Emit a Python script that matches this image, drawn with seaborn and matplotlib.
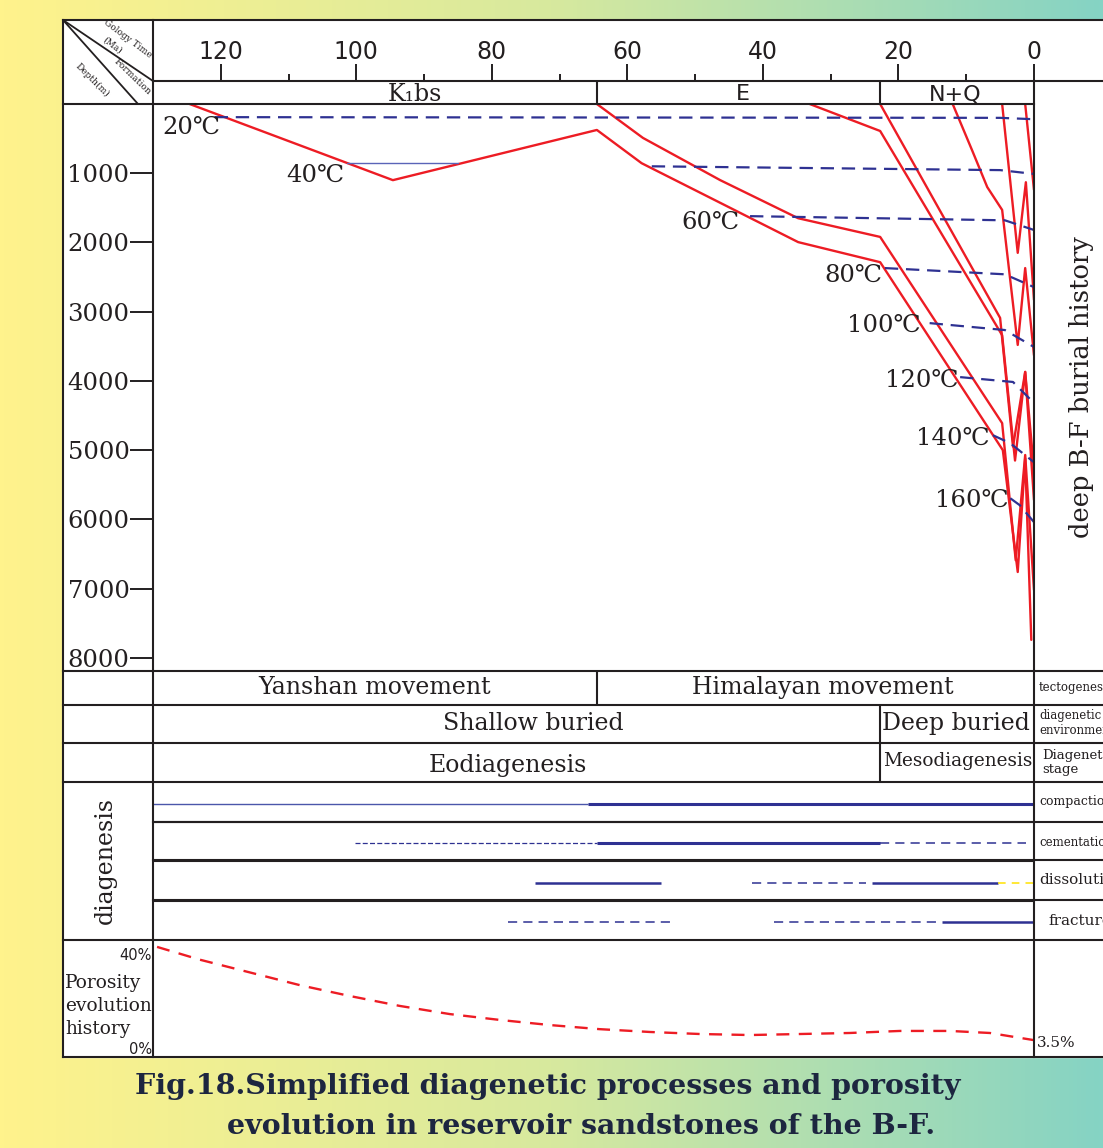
import numpy as np
import pandas as pd
import matplotlib
matplotlib.use("Agg")
import matplotlib.pyplot as plt
import seaborn as sns
from matplotlib.colors import LinearSegmentedColormap
from matplotlib.patches import Rectangle

sns.set_theme(style="white")
plt.rcParams['font.family'] = ['DejaVu Serif', 'DejaVu Sans']

W, H = 1103, 1148
RED = '#ED1C24'
BLUE = '#2E3192'
INK = '#231F20'
SERIF = ['DejaVu Serif', 'DejaVu Sans']
SANS = ['DejaVu Sans']

# -----------------------------
# 1. Values
# -----------------------------
time_major = [120, 100, 80, 60, 40, 20, 0]
time_minor = [110, 90, 70, 50, 30, 10]
depth_ticks = [1000, 2000, 3000, 4000, 5000, 6000, 7000, 8000]

formation_names = ['K₁bs', 'E', 'N+Q']
formation_mid = [91.4, 43.0, 11.7]
formation_bounds = [64.5, 22.7]

# burial curves: age (Ma) / depth (m)
k1bs_ma = [124.6, 94.6, 64.5, 57.9, 34.8, 22.7, 4.6, 2.4, 1.3, 0.4]
k1bs_depth = [0, 1100, 375, 855, 1995, 2285, 5000, 6760, 5120, 7740]
e_base_ma = [64.5, 57.7, 46.3, 34.8, 22.7, 4.7, 2.7, 1.3, 0]
e_base_depth = [0, 490, 1100, 1650, 1920, 4610, 6590, 5070, 7020]
e_mid_ma = [33.1, 22.7, 4.7, 2.8, 1.3, 0]
e_mid_depth = [0, 390, 3340, 5150, 3870, 5720]
nq_base_ma = [22.7, 5.0, 3.1, 1.3, 0]
nq_base_depth = [0, 3090, 4950, 3870, 5290]
n_mid_ma = [12.0, 9.15, 6.9, 4.7, 2.4, 1.3, 0]
n_mid_depth = [0, 665, 1200, 1530, 3480, 2370, 3630]
q_base_ma = [4.7, 2.4, 1.2, 0]
q_base_depth = [0, 2150, 1130, 2830]
q_top_ma = [1.3, 0]
q_top_depth = [0, 1240]

# isotherms
iso20_ma, iso20_depth = [120.9, 5.0, 0], [190, 200, 220]
iso40k_ma, iso40k_depth = [101.3, 85.0], [855, 855]
iso40_ma, iso40_depth = [56.4, 5.0, 0], [900, 955, 1010]
iso60_ma, iso60_depth = [41.9, 4.3, 0], [1620, 1680, 1820]
iso80_ma, iso80_depth = [22.0, 4.3, 0], [2370, 2460, 2645]
iso100_ma, iso100_depth = [15.4, 4.3, 0], [3165, 3265, 3510]
iso120_ma, iso120_depth = [10.9, 3.1, 0], [3945, 4015, 4320]
iso140_ma, iso140_depth = [6.05, 3.5, 0], [4785, 4900, 5175]
iso160_ma, iso160_depth = [3.5, 2.1, 0], [5695, 5795, 6040]

iso_labels = ['20℃', '40℃', '60℃', '80℃', '100℃', '120℃', '140℃', '160℃']
iso_label_ma = [120.1, 101.7, 43.4, 22.3, 16.8, 11.2, 6.5, 3.8]
iso_label_depth = [332, 1026, 1705, 2471, 3193, 3988, 4826, 5722]

# tectonics / environment / stage rows
tect_names = ['Yanshan movement', 'Himalayan movement']
tect_mid = [97.3, 31.1]
tect_bound = [64.5]
env_names = ['Shallow buried', 'Deep buried']
env_mid = [73.9, 11.5]
stage_names = ['Eodiagenesis', 'Mesodiagenesis']
stage_mid = [77.6, 11.2]
stage_size = [17, 13.3]
burial_bound = [22.7]

# diagenesis processes
proc_names = ['compaction', 'cementation', 'dissolution', 'fracture']
seg_row = [0, 0, 1, 1, 1, 2, 2, 2, 2, 3, 3, 3]
seg_start = [130, 65.8, 100.2, 64.5, 22.7, 73.7, 41.6, 23.9, 5.3, 77.6, 38.4, 13.6]
seg_end = [65.8, 0, 64.5, 22.7, 1.2, 55.1, 24.8, 5.3, 0, 52.8, 13.6, 0]
seg_style = ['thin', 'thick', 'fine', 'thick', 'dash', 'solid', 'dash', 'solid',
             'yellow', 'dash', 'dash', 'solid']

# porosity evolution (%)
por_ma = [129.4, 123.1, 115.7, 108.3, 101.0, 93.6, 86.2, 78.8, 71.4, 64.1,
          56.7, 49.3, 41.9, 34.5, 27.2, 19.8, 12.4, 6.5, 0]
por_val = [40, 35, 30, 25, 20.8, 16.9, 13.7, 11.4, 9.4, 7.8,
           6.7, 5.9, 5.5, 5.9, 6.3, 7.1, 7.1, 6.3, 3.5]

# -----------------------------
# 2. Figure, background
# -----------------------------
fig = plt.figure(figsize=(W / 100, H / 100), dpi=100)

bg = fig.add_axes([0, 0, 1, 1], zorder=0)
cmap = LinearSegmentedColormap.from_list('bg', ['#FFF38C', '#D7E99E', '#85D3C4'])
bg.imshow(np.linspace(0, 1, 256)[None, :], aspect='auto', cmap=cmap,
          extent=(0, W, H, 0))
bg.add_patch(Rectangle((63, 20), W - 63, 1057 - 20, color='white'))
bg.set_xlim(0, W)
bg.set_ylim(H, 0)
bg.axis('off')


def px_axes(x0, y0, x1, y1):
    a = fig.add_axes([x0 / W, 1 - y1 / H, (x1 - x0) / W, (y1 - y0) / H], zorder=2)
    a.patch.set_alpha(0)
    for s in a.spines.values():
        s.set_visible(False)
    a.set_xlim(130, 0)
    a.set_xticks([])
    a.set_yticks([])
    return a


# -----------------------------
# 3. Burial history panel
# -----------------------------
bax = px_axes(153, 104, 1034, 671)
curves = [('K1bs', k1bs_ma, k1bs_depth), ('Ebase', e_base_ma, e_base_depth),
          ('Emid', e_mid_ma, e_mid_depth), ('NQbase', nq_base_ma, nq_base_depth),
          ('Nmid', n_mid_ma, n_mid_depth), ('Qbase', q_base_ma, q_base_depth),
          ('Qtop', q_top_ma, q_top_depth)]
burial = pd.concat([pd.DataFrame({'ma': m, 'depth': d, 'horizon': n})
                    for n, m, d in curves], ignore_index=True)
sns.lineplot(data=burial, x='ma', y='depth', hue='horizon',
             palette={n: RED for n, _, _ in curves}, estimator=None, sort=False,
             legend=False, lw=1.7, ax=bax)

for m, d in [(iso20_ma, iso20_depth), (iso40_ma, iso40_depth), (iso60_ma, iso60_depth),
             (iso80_ma, iso80_depth), (iso100_ma, iso100_depth),
             (iso120_ma, iso120_depth), (iso140_ma, iso140_depth),
             (iso160_ma, iso160_depth)]:
    bax.plot(m, d, color=BLUE, lw=1.6, dashes=(6, 3.5))
bax.plot(iso40k_ma, iso40k_depth, color='#5A64B8', lw=1.0)

for lab, m, d in zip(iso_labels, iso_label_ma, iso_label_depth):
    bax.text(m, d, lab, ha='right', va='center', fontsize=17.5, color=INK,
             family=SERIF)

bax.set_xlim(130, 0)
bax.set_ylim(8190, 0)
bax.set_xlabel('')
bax.set_ylabel('')
bax.set_xticks([])
bax.set_yticks(depth_ticks)
bax.set_yticklabels([str(t) for t in depth_ticks])
bax.tick_params(axis='y', left=True, direction='out', length=16.5, width=1.4,
                pad=0.5, labelsize=17.5, labelcolor=INK, color=INK)

# time header
hax = px_axes(153, 20, 1034, 81)
hax.set_ylim(0, 1)
hax.set_xticks(time_major)
hax.set_xticks(time_minor, minor=True)
hax.tick_params(axis='x', which='major', bottom=True, direction='in', length=12.2,
                width=1.4, color=INK, labelbottom=False)
hax.tick_params(axis='x', which='minor', bottom=True, direction='in', length=5,
                width=1.4, color=INK)
for t in time_major:
    hax.text(t, 0.475, str(t), ha='center', va='center', fontsize=17, color=INK,
             family=SANS)

# formation row
fax = px_axes(153, 81, 1034, 104)
fax.set_ylim(0, 1)
for b in formation_bounds:
    fax.axvline(b, color=INK, lw=1.5)
for name, m in zip(formation_names, formation_mid):
    fam = SERIF if name.startswith('K') else SANS
    fax.text(m, 0.42, name, ha='center', va='center', fontsize=17 if fam is SERIF else 16,
             color=INK, family=fam)

# -----------------------------
# 4. Lower rows
# -----------------------------
tax = px_axes(153, 671, 1034, 705)
tax.set_ylim(0, 1)
for b in tect_bound:
    tax.axvline(b, color=INK, lw=1.5)
for name, m in zip(tect_names, tect_mid):
    tax.text(m, 0.52, name, ha='center', va='center', fontsize=17, color=INK)

eax = px_axes(153, 705, 1034, 743)
eax.set_ylim(0, 1)
for b in burial_bound:
    eax.axvline(b, color=INK, lw=1.5)
for name, m in zip(env_names, env_mid):
    eax.text(m, 0.52, name, ha='center', va='center', fontsize=17, color=INK)

sax = px_axes(153, 743, 1034, 782)
sax.set_ylim(0, 1)
for b in burial_bound:
    sax.axvline(b, color=INK, lw=1.5)
for name, m, fs in zip(stage_names, stage_mid, stage_size):
    sax.text(m, 0.42 if fs > 15 else 0.55, name, ha='center', va='center',
             fontsize=fs, color=INK)

dax = px_axes(153, 782, 1034, 940)
dax.set_ylim(4, 0)
for r in range(1, len(proc_names)):
    dax.axhline(r, color=INK, lw=1.5)
styles = {
    'thin': dict(color='#4B56AA', lw=1.0),
    'thick': dict(color=BLUE, lw=2.2),
    'solid': dict(color=BLUE, lw=1.8),
    'fine': dict(color=BLUE, lw=0.9, dashes=(4, 1.8)),
    'dash': dict(color=BLUE, lw=1.1, dashes=(6, 4)),
    'yellow': dict(color='#FFE100', lw=1.1, dashes=(5, 4)),
}
for r, s, e, st in zip(seg_row, seg_start, seg_end, seg_style):
    dax.plot([s, e], [r + 0.55, r + 0.55], solid_capstyle='butt', **styles[st])

pax = px_axes(153, 940, 1034, 1057)
sns.lineplot(x=por_ma, y=por_val, color=RED, lw=1.7, sort=False, estimator=None,
             linestyle=(0, (5.5, 4)), ax=pax)
pax.set_xlim(130, 0)
pax.set_ylim(-3.1, 42.7)
pax.set_xticks([])
pax.set_yticks([])
pax.set_xlabel('')
pax.set_ylabel('')

# -----------------------------
# 5. Table frame and side labels
# -----------------------------
ov = fig.add_axes([0, 0, 1, 1], zorder=5)
ov.patch.set_alpha(0)
ov.set_xlim(0, W)
ov.set_ylim(H, 0)
ov.axis('off')

rules = [(20, 63, W), (81, 153, W), (104, 63, 1034), (671, 63, W), (705, 63, W),
         (743, 63, W), (782, 63, W), (822, 153, W), (860, 153, W), (900, 153, W),
         (940, 63, W), (1057, 63, W)]
for y, x0, x1 in rules:
    ov.plot([x0, x1], [y, y], color=INK, lw=1.5, solid_capstyle='projecting')
for x, y0, y1 in [(63, 20, 1057), (153, 20, 1057), (1034, 81, 1057)]:
    ov.plot([x, x], [y0, y1], color=INK, lw=1.5, solid_capstyle='projecting')

# corner cell
ov.plot([63, 153], [20, 81], color=INK, lw=1.3)
ov.plot([63, 138], [20, 104], color=INK, lw=1.3)
ov.text(128, 39, 'Gology Time', rotation=-37, ha='center', va='center', fontsize=6.5,
        color=INK, rotation_mode='anchor')
ov.text(112, 45, '(Ma)', rotation=-37, ha='center', va='center', fontsize=6.5,
        color=INK, rotation_mode='anchor')
ov.text(132, 77, 'Formation', rotation=-44, ha='center', va='center', fontsize=6.5,
        color=INK, rotation_mode='anchor')
ov.text(92, 80, 'Depth(m)', rotation=-45, ha='center', va='center', fontsize=6.5,
        color=INK, rotation_mode='anchor')

ov.text(1081, 387, 'deep B-F burial history', rotation=90, ha='center', va='center',
        fontsize=18.5, color=INK)

side = [('tectogenesis', 1039, 688, 8.5), ('diagenetic', 1039, 716, 8.5),
        ('environment', 1039, 731, 8.5), ('Diagenetic', 1042, 755, 9.5),
        ('stage', 1042, 769, 9.5), ('compaction', 1039, 801, 9),
        ('cementation', 1039, 842, 8.5), ('dissolution', 1039, 880, 11),
        ('fracture', 1048, 921, 11), ('3.5%', 1037, 1043, 11)]
for txt, x, y, fs in side:
    ov.text(x, y, txt, ha='left', va='center', fontsize=fs, color=INK)

ov.text(105, 861, 'diagenesis', rotation=90, ha='center', va='center', fontsize=17,
        color=INK)
ov.text(152, 956, '40%', ha='right', va='center', fontsize=10.5, color=INK, family=SANS)
ov.text(152, 1049, '0%', ha='right', va='center', fontsize=10.5, color=INK, family=SANS)
for txt, y in [('Porosity', 983), ('evolution', 1006), ('history', 1029)]:
    ov.text(65, y, txt, ha='left', va='center', fontsize=13.4, color=INK)

ov.text(548, 1087, 'Fig.18.Simplified diagenetic processes and porosity',
        ha='center', va='center', fontsize=20.5, fontweight='bold', color='#1D2640')
ov.text(581, 1126, 'evolution in reservoir sandstones of the B-F.',
        ha='center', va='center', fontsize=20.5, fontweight='bold', color='#1D2640')

fig.savefig('out.png', dpi=100)
